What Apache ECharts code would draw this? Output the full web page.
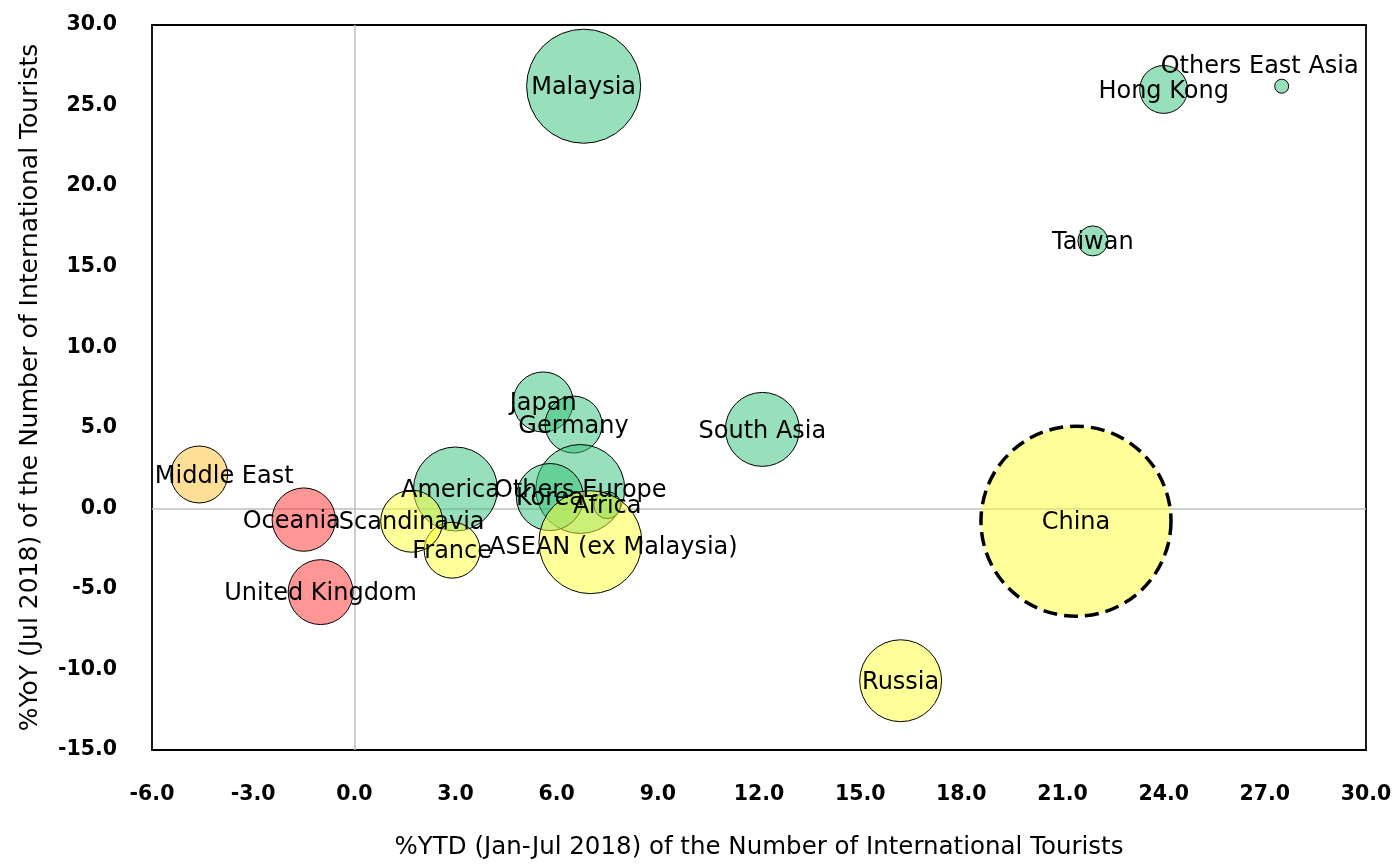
<!DOCTYPE html>
<html>
<head>
<meta charset="utf-8">
<title>International Tourists: %YTD vs %YoY</title>
<script src="https://cdn.jsdelivr.net/npm/echarts@6/dist/echarts.min.js"></script>
<style>
  html, body { margin: 0; padding: 0; background: #fff; }
  #chart { width: 1395px; height: 865px; }
</style>
</head>
<body>
<div id="chart"></div>
<script>
// Markets
const markets = [
  'Malaysia', 'Hong Kong', 'Others East Asia', 'Taiwan', 'Japan', 'Germany',
  'South Asia', 'America', 'Others Europe', 'Korea', 'Africa',
  'ASEAN (ex Malaysia)', 'France', 'Scandinavia', 'Middle East', 'Oceania',
  'United Kingdom', 'Russia', 'China'
];
// %YTD (Jan-Jul 2018)
const ytdGrowth = [
  6.8, 24.0, 27.5, 21.9, 5.6, 6.5,
  12.1, 3.0, 6.7, 5.8, 7.5,
  7.0, 2.9, 1.7, -4.6, -1.5,
  -1.0, 16.2, 21.4
];
// %YoY (Jul 2018)
const yoyGrowth = [
  26.2, 26.0, 26.2, 16.6, 6.6, 5.2,
  4.9, 1.2, 1.2, 0.7, 0.2,
  -2.1, -2.6, -0.8, 2.1, -0.7,
  -5.2, -10.7, -0.8
];
// Number of tourists Jan-Jul 2018 (thousand) - bubble area
const touristsK = [
  2270, 400, 34, 157, 630, 565,
  955, 1230, 1380, 785, 127,
  1850, 545, 670, 565, 700,
  735, 1170, 6300
];
// Axis ticks
const xTicks = ['-6.0', '-3.0', '0.0', '3.0', '6.0', '9.0', '12.0', '15.0', '18.0', '21.0', '24.0', '27.0', '30.0'];
const yTicks = ['-15.0', '-10.0', '-5.0', '0.0', '5.0', '10.0', '15.0', '20.0', '25.0', '30.0'];

// Quadrant fill colours (semi-transparent)
function quadrantColor(x, y) {
  if (x >= 0 && y >= 0) return 'rgba(49,193,119,0.5)';
  if (x >= 0 && y < 0) return 'rgba(255,255,51,0.5)';
  if (x < 0 && y >= 0) return 'rgba(255,189,45,0.5)';
  return 'rgba(255,45,45,0.5)';
}

// Label nudges (px) where text sits off-centre
const labelNudge = {
  'Others East Asia': [-22, -21],
  'ASEAN (ex Malaysia)': [23, 4],
  'Middle East': [25, 0],
  'Oceania': [-12, 0],
  'America': [-5, 0]
};

const FONT = '"DejaVu Sans", sans-serif';

const data = markets.map((name, i) => {
  const nudge = labelNudge[name] || [0, 0];
  const item = {
    name: name,
    value: [ytdGrowth[i], yoyGrowth[i], touristsK[i]],
    itemStyle: {
      color: quadrantColor(ytdGrowth[i], yoyGrowth[i]),
      borderColor: '#000',
      borderWidth: 1,
      opacity: 1
    },
    label: { offset: [nudge[0], nudge[1] + 2] }
  };
  if (name === 'China') {
    item.itemStyle.borderWidth = 3.5;
    item.itemStyle.borderType = [14, 7];
  }
  return item;
});

const chart = echarts.init(document.getElementById('chart'), null, { renderer: 'canvas' });

chart.setOption({
  animation: false,
  backgroundColor: '#fff',
  grid: {
    left: 152, top: 25, right: 29, bottom: 108,
    show: true, borderColor: '#000', borderWidth: 1.8, backgroundColor: 'transparent'
  },
  xAxis: {
    type: 'value',
    min: -6, max: 30, interval: 3,
    name: '%YTD (Jan-Jul 2018) of the Number of International Tourists',
    nameLocation: 'middle',
    nameGap: 85,
    nameTextStyle: { fontFamily: FONT, fontSize: 24.5, color: '#000' },
    axisLine: { show: false },
    axisTick: { show: false },
    splitLine: { show: false },
    axisLabel: {
      margin: 34,
      fontFamily: FONT, fontSize: 20.5, fontWeight: 'bold', color: '#000',
      formatter: (v) => xTicks[Math.round((v + 6) / 3)]
    }
  },
  yAxis: {
    type: 'value',
    min: -15, max: 30, interval: 5,
    name: '%YoY (Jul 2018) of the Number of International Tourists',
    nameLocation: 'middle',
    nameGap: 109,
    nameTextStyle: { fontFamily: FONT, fontSize: 25, color: '#000' },
    axisLine: { show: false },
    axisTick: { show: false },
    splitLine: { show: false },
    axisLabel: {
      margin: 35,
      fontFamily: FONT, fontSize: 20.5, fontWeight: 'bold', color: '#000',
      formatter: (v) => yTicks[Math.round((v + 15) / 5)]
    }
  },
  series: [{
    type: 'scatter',
    symbol: 'circle',
    symbolSize: (val) => 2.394 * Math.sqrt(val[2]),
    itemStyle: { opacity: 1 },
    data: data,
    label: {
      show: true,
      position: 'inside',
      formatter: (p) => p.name,
      fontFamily: FONT,
      fontSize: 24,
      color: '#000',
      opacity: 1
    },
    markLine: {
      silent: true,
      symbol: 'none',
      label: { show: false },
      lineStyle: { color: '#bfbfbf', type: 'solid', width: 1.5 },
      data: [{ xAxis: 0 }, { yAxis: 0 }],
      z: 0
    }
  }]
});
</script>
</body>
</html>
